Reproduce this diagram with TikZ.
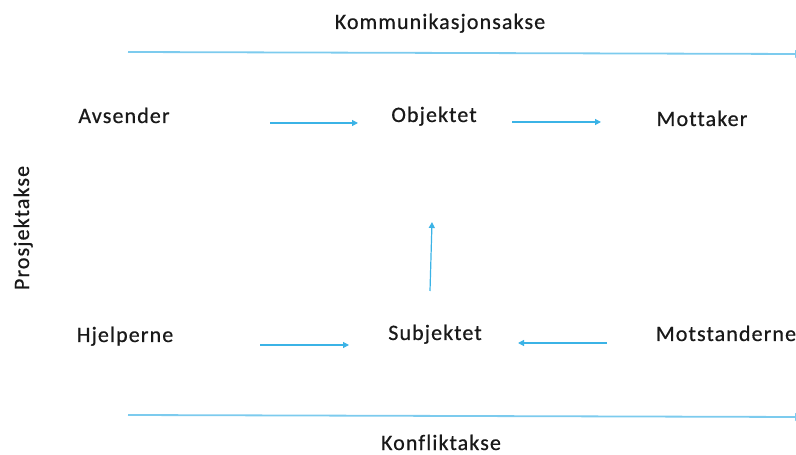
\documentclass[tikz,border=0pt]{standalone}
\usepackage{fontspec}
\setmainfont{Carlito}[LetterSpace=5, Ligatures=NoCommon, FakeBold=0.6]
\usetikzlibrary{arrows.meta}
\definecolor{arr}{HTML}{3BB3E6}
\definecolor{axis}{HTML}{7CCBEE}
\tikzset{
  lbl/.style={font=\fontsize{22bp}{24bp}\selectfont, text=black!90, inner sep=0pt, anchor=base},
  conn/.style={draw=arr, line width=1.2bp, -{Triangle[length=6bp,width=6bp]}},
  axisline/.style={draw=axis, line width=1.8bp, -{Triangle[length=5bp,width=8bp]}}
}
\begin{document}
\begin{tikzpicture}[x=1bp,y=-1bp]
\useasboundingbox (0,0) rectangle (796,455);
% labels
\node[lbl] (komm) at (440,29) {Kommunikasjonsakse};
\node[lbl] (avs) at (124,123) {Avsender};
\node[lbl] (obj) at (434,122) {Objektet};
\node[lbl] (mot) at (702,126) {Mottaker};
\node[lbl] (hje) at (125,342) {Hjelperne};
\node[lbl] (sub) at (435,340) {Subjektet};
\node[lbl] (mst) at (726,341) {Motstanderne};
\node[lbl] (konf) at (441,450) {Konfliktakse};
\node[lbl, rotate=90] (pro) at (29,228) {Prosjektakse};
% axis line end points
\coordinate (ktl) at (128,52);
\coordinate (ktr) at (800,54);
\coordinate (kbl) at (128,415);
\coordinate (kbr) at (800,417);
\draw[axisline] (ktl) -- (ktr);
\draw[axisline] (kbl) -- (kbr);
% arrow end points
\coordinate (a1s) at (270,123);
\coordinate (a1e) at (358,123);
\coordinate (a2s) at (512,122);
\coordinate (a2e) at (601,122);
\coordinate (a3s) at (260,345);
\coordinate (a3e) at (349,345);
\coordinate (a4s) at (607,343);
\coordinate (a4e) at (518,343);
\coordinate (a5s) at (430,291);
\coordinate (a5e) at (432,222);
\draw[conn] (a1s) -- (a1e);
\draw[conn] (a2s) -- (a2e);
\draw[conn] (a3s) -- (a3e);
\draw[conn] (a4s) -- (a4e);
\draw[conn] (a5s) -- (a5e);
\end{tikzpicture}
\end{document}
